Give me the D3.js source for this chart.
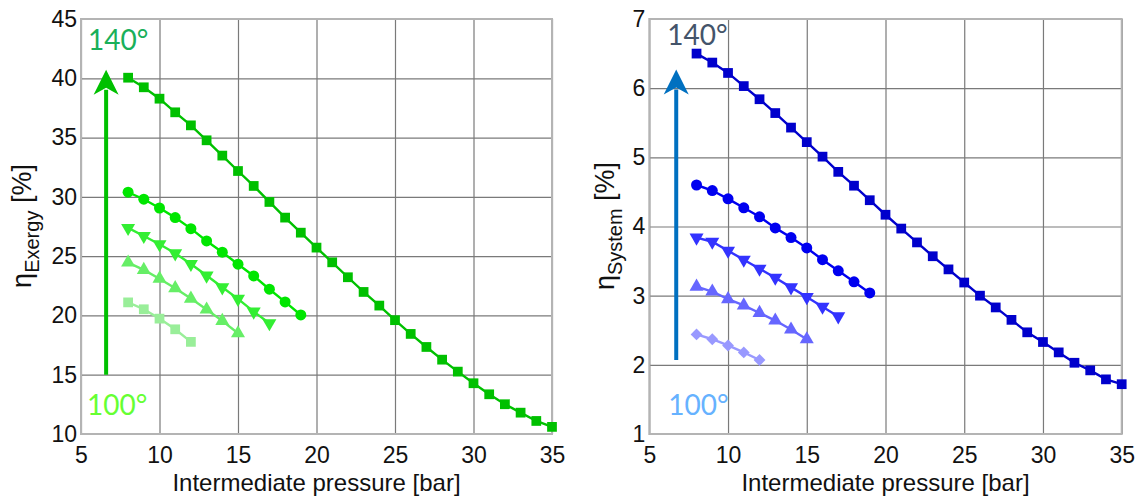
<!DOCTYPE html>
<html>
<head>
<meta charset="utf-8">
<title>Exergy and system efficiency</title>
<script src="https://d3js.org/d3.v7.min.js"></script>
<style>
  body { margin: 0; background: #fff; }
  svg { display: block; }
</style>
</head>
<body>
<script>
// intermediate pressure [bar] for each source temperature
var p140 = [8, 9, 10, 11, 12, 13, 14, 15, 16, 17, 18, 19, 20, 21, 22, 23, 24, 25, 26, 27, 28, 29, 30, 31, 32, 33, 34, 35];
var p130 = [8, 9, 10, 11, 12, 13, 14, 15, 16, 17, 18, 19];
var p120 = [8, 9, 10, 11, 12, 13, 14, 15, 16, 17];
var p110 = [8, 9, 10, 11, 12, 13, 14, 15];
var p100 = [8, 9, 10, 11, 12];

// exergy efficiency [%]
var exergy140 = [40.05, 39.24, 38.28, 37.13, 36.03, 34.77, 33.48, 32.18, 30.92, 29.57, 28.25, 26.98, 25.72, 24.48, 23.22, 21.98, 20.83, 19.60, 18.44, 17.34, 16.27, 15.26, 14.28, 13.35, 12.51, 11.80, 11.10, 10.60];
var exergy130 = [30.39, 29.80, 29.06, 28.25, 27.32, 26.28, 25.33, 24.32, 23.33, 22.21, 21.14, 20.04];
var exergy120 = [27.38, 26.70, 26.00, 25.24, 24.34, 23.36, 22.37, 21.40, 20.32, 19.34];
var exergy110 = [24.46, 23.84, 23.10, 22.30, 21.42, 20.50, 19.54, 18.50];
var exergy100 = [21.10, 20.52, 19.73, 18.83, 17.77];

// system efficiency [%]
var system140 = [6.50, 6.37, 6.22, 6.03, 5.84, 5.64, 5.43, 5.22, 5.01, 4.79, 4.59, 4.38, 4.17, 3.97, 3.77, 3.57, 3.38, 3.19, 3.00, 2.83, 2.65, 2.47, 2.33, 2.18, 2.03, 1.92, 1.79, 1.72];
var system130 = [4.60, 4.52, 4.40, 4.27, 4.14, 3.98, 3.84, 3.69, 3.52, 3.36, 3.20, 3.04];
var system120 = [3.84, 3.78, 3.65, 3.52, 3.39, 3.26, 3.12, 2.98, 2.84, 2.70];
var system110 = [3.13, 3.06, 2.95, 2.86, 2.75, 2.64, 2.51, 2.37];
var system100 = [2.44, 2.37, 2.28, 2.18, 2.07];

var xTicks = [5, 10, 15, 20, 25, 30, 35];
var exergyTicks = [10, 15, 20, 25, 30, 35, 40, 45];
var systemTicks = [1, 2, 3, 4, 5, 6, 7];

var W = 1141, H = 497;
var svg = d3.select("body").append("svg").attr("width", W).attr("height", H);
svg.append("rect").attr("width", W).attr("height", H).attr("fill", "#fff");

var axisFont = "'Liberation Sans', Arial, sans-serif";
var noteFont = "Lato, 'Open Sans', sans-serif";

function drawPanel(o) {
    var x = d3.scaleLinear().domain([5, 35]).range([o.left, o.right]);
    var y = d3.scaleLinear().domain(o.yDomain).range([434, 19]);
    var g = svg.append("g");

    // grid + tick labels
    var gx = g.append("g").attr("transform", "translate(0,434)")
        .call(d3.axisBottom(x).tickValues(xTicks).tickSize(-(434 - 19)).tickPadding(13).tickFormat(d3.format("d")));
    var gy = g.append("g").attr("transform", "translate(" + o.left + ",0)")
        .call(d3.axisLeft(y).tickValues(o.yTicks).tickSize(-(o.right - o.left)).tickPadding(4).tickFormat(d3.format("d")));
    [gx, gy].forEach(function (a) {
        a.select(".domain").remove();
        a.selectAll("line").attr("stroke", "#7a7a7a").attr("stroke-width", 1.2);
        a.selectAll("text").attr("font-family", axisFont).attr("font-size", 23).attr("fill", "#111");
    });

    // plot frame
    g.append("rect").attr("x", o.left).attr("y", 19)
        .attr("width", o.right - o.left).attr("height", 434 - 19)
        .attr("fill", "none").attr("stroke", "#b4b4b4").attr("stroke-width", 2);

    // x label
    g.append("text").attr("x", (o.left + o.right) / 2).attr("y", 491)
        .attr("text-anchor", "middle").attr("font-family", axisFont).attr("font-size", 24).attr("fill", "#111")
        .text("Intermediate pressure [bar]");

    // y label with subscript
    var yl = g.append("text")
        .attr("transform", "translate(" + o.yLabelX + ",226) rotate(-90)")
        .attr("text-anchor", "middle").attr("font-family", axisFont).attr("font-size", 27).attr("fill", "#111");
    yl.append("tspan").text("\u03b7");
    yl.append("tspan").attr("font-size", 20).attr("dy", 8).text(o.sub);
    yl.append("tspan").attr("dy", -8).text(" [%]");

    // series
    var line = d3.line().x(function (d) { return x(d[0]); }).y(function (d) { return y(d[1]); });
    o.series.forEach(function (s) {
        var pts = s.p.map(function (p, i) { return [p, s.v[i]]; });
        g.append("path").datum(pts).attr("d", line)
            .attr("fill", "none").attr("stroke", s.color).attr("stroke-width", 2.4);
        g.selectAll(null).data(pts).enter().append("path")
            .attr("d", d3.symbol().type(s.sym).size(s.size))
            .attr("transform", function (d) {
                return "translate(" + x(d[0]) + "," + y(d[1]) + ") rotate(" + (s.rot || 0) + ")";
            })
            .attr("fill", s.color);
    });

    // temperature arrow
    var ax = x(o.arrow.x), yTip = y(o.arrow.tip), yBase = y(o.arrow.from);
    g.append("line").attr("x1", ax).attr("x2", ax).attr("y1", yBase).attr("y2", yTip + 20)
        .attr("stroke", o.arrow.color).attr("stroke-width", 4);
    g.append("path")
        .attr("d", "M" + ax + "," + yTip + " L" + (ax + 12.5) + "," + (yTip + 25) +
            " L" + ax + "," + (yTip + 18) + " L" + (ax - 12.5) + "," + (yTip + 25) + "Z")
        .attr("fill", o.arrow.color);

    o.notes.forEach(function (n) {
        g.append("text").attr("x", x(n.x)).attr("y", y(n.y))
            .attr("font-family", noteFont).attr("font-size", 28).attr("fill", n.color).text(n.text);
    });
}

drawPanel({
    left: 81, right: 552, yDomain: [10, 45], yTicks: exergyTicks, yLabelX: 31, sub: "Exergy",
    series: [
        { p: p140, v: exergy140, color: "#00c000", sym: d3.symbolSquare, size: 95 },
        { p: p130, v: exergy130, color: "#00e600", sym: d3.symbolCircle, size: 95 },
        { p: p120, v: exergy120, color: "#33ee33", sym: d3.symbolTriangle, size: 85, rot: 180 },
        { p: p110, v: exergy110, color: "#66ee66", sym: d3.symbolTriangle, size: 85 },
        { p: p100, v: exergy100, color: "#99ee99", sym: d3.symbolSquare, size: 95 }
    ],
    arrow: { x: 6.6, from: 15, tip: 40.73, color: "#00c000" },
    notes: [
        { x: 5.45, y: 42.39, text: "140\u00b0", color: "#19b05a" },
        { x: 5.38, y: 11.6, text: "100\u00b0", color: "#66ff33" }
    ]
});

drawPanel({
    left: 649.3, right: 1121.7, yDomain: [1, 7], yTicks: systemTicks, yLabelX: 614, sub: "System",
    series: [
        { p: p140, v: system140, color: "#0000cc", sym: d3.symbolSquare, size: 95 },
        { p: p130, v: system130, color: "#0000f0", sym: d3.symbolCircle, size: 95 },
        { p: p120, v: system120, color: "#3333ff", sym: d3.symbolTriangle, size: 85, rot: 180 },
        { p: p110, v: system110, color: "#6666ff", sym: d3.symbolTriangle, size: 85 },
        { p: p100, v: system100, color: "#9999ff", sym: d3.symbolSquare, size: 70, rot: 45 }
    ],
    arrow: { x: 6.71, from: 2.07, tip: 6.27, color: "#0070c0" },
    notes: [
        { x: 6.14, y: 6.62, text: "140\u00b0", color: "#44546a" },
        { x: 6.2, y: 1.28, text: "100\u00b0", color: "#66b2ff" }
    ]
});
</script>
</body>
</html>
